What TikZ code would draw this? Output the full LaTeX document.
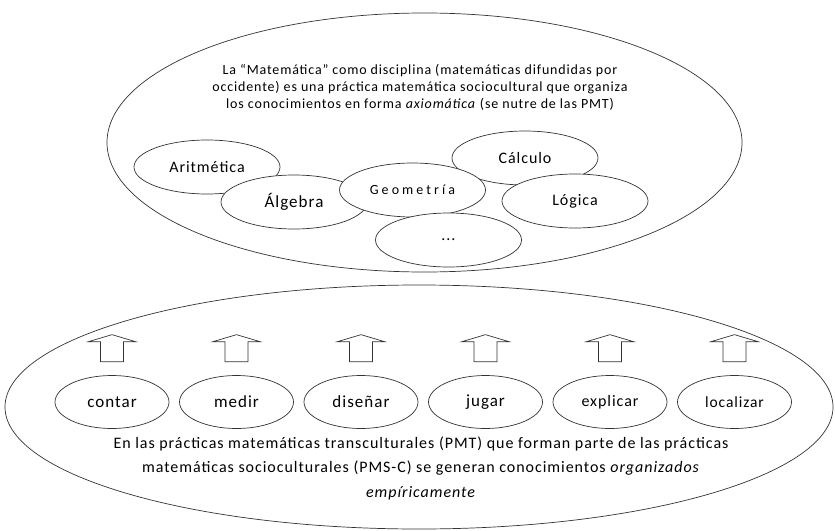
\documentclass[tikz,border=0pt]{standalone}
\usepackage{fontspec}
\setmainfont{Carlito}[LetterSpace=6]
\newfontfamily\ancha{Carlito}[LetterSpace=22]
\usepackage{tikz}
\usetikzlibrary{positioning, shapes.geometric}

\tikzset{
    marco/.style={ellipse, draw=black!80, line width=0.7pt, inner sep=0pt},
    rama/.style={ellipse, draw=black!80, fill=white, line width=0.7pt, inner sep=0pt,
        minimum width=146pt, minimum height=54pt, font=\fontsize{16}{18}\selectfont},
    accion/.style={ellipse, draw=black!80, line width=0.7pt, inner sep=0pt,
        minimum width=114pt, minimum height=53pt, font=\fontsize{17}{19}\selectfont},
    subir/.style={draw=black!80, line width=0.7pt, line join=miter},
    parrafo/.style={align=center, font=\fontsize{14}{17}\selectfont}
}

\begin{document}
\begin{tikzpicture}[x=1pt, y=-1pt]
    \useasboundingbox (0,0) rectangle (835,530);

    % La Matematica como disciplina
    \node[marco, minimum width=635pt, minimum height=259pt] (disciplina) at (424.5,142.5) {};
    \node[parrafo] (txtdisc) at (420,87)
        {La “Matemática” como disciplina (matemáticas difundidas por\\
         occidente) es una práctica matemática sociocultural que organiza\\
         los conocimientos en forma \textit{axiomática} (se nutre de las PMT)};

    \node[rama] (aritmetica) at (207,167) {Aritmética};
    \node[rama, font=\fontsize{17}{19}\selectfont] (algebra) at (294,202) {Álgebra};
    \node[rama] (calculo) at (525,158) {Cálculo};
    \node[rama, font=\fontsize{14}{16}\ancha] (geometria) at (412.5,190) {Geometría};
    \node[rama] (logica) at (575,201) {Lógica};
    \node[rama] (otras) at (448.5,240) {...};

    % Practicas matematicas transculturales
    \node[marco, minimum width=828pt, minimum height=244pt] (transcult) at (419,407) {};

    \node[accion] (contar) at (112,402) {contar};
    \node[accion, right=9.8pt of contar] (medir) {medir};
    \node[accion, right=9.8pt of medir] (disenar) {diseñar};
    \node[accion, right=9.8pt of disenar] (jugar) {jugar};
    \node[accion, right=9.8pt of jugar, font=\fontsize{16}{18}\selectfont] (explicar) {explicar};
    \node[accion, right=9.8pt of explicar, font=\fontsize{15.5}{18}\selectfont] (localizar) {localizar};

    % flechas de bloque
    \foreach \n in {contar, medir, disenar, jugar, explicar, localizar} {
        \coordinate[above=13.5pt of \n] (pie-\n);
        \draw[subir] (pie-\n) ++(-11.5,0) -- ++(0,-20) -- ++(-12,0) -- ++(23.5,-7)
            -- ++(23.5,7) -- ++(-12,0) -- ++(0,20) -- cycle;
    }

    \node[parrafo, font=\fontsize{16}{24.5}\selectfont] (txttrans) at (421,468)
        {En las prácticas matemáticas transculturales (PMT) que forman parte de las prácticas\\
         matemáticas socioculturales (PMS-C) se generan conocimientos \textit{organizados}\\
         \textit{empíricamente}};
\end{tikzpicture}
\end{document}
